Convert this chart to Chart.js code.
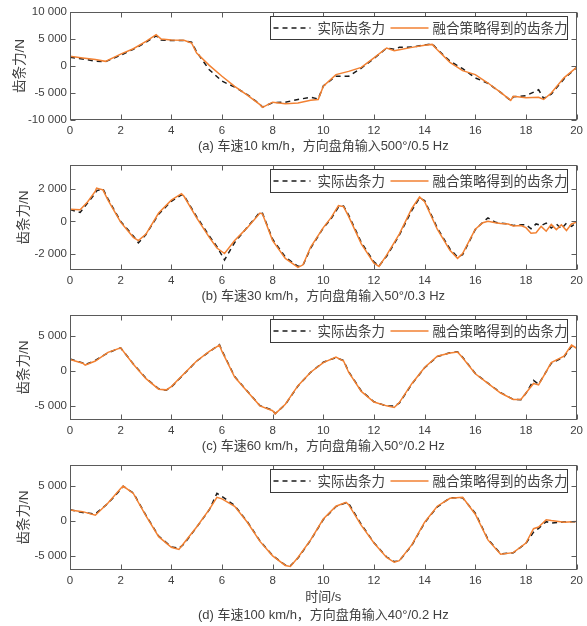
<!DOCTYPE html>
<html lang="zh">
<head>
<meta charset="UTF-8">
<title>齿条力对比</title>
<script src="https://cdn.jsdelivr.net/npm/chart.js"></script>
<style>
  body { margin: 0; background: #ffffff; }
  .panel { position: absolute; left: 0; width: 587px; }
  canvas { display: block; }
</style>
</head>
<body>
<div class="panel" style="top:0px"><canvas id="chartA" width="587" height="155"></canvas></div>
<div class="panel" style="top:155px"><canvas id="chartB" width="587" height="150"></canvas></div>
<div class="panel" style="top:305px"><canvas id="chartC" width="587" height="150"></canvas></div>
<div class="panel" style="top:455px"><canvas id="chartD" width="587" height="171"></canvas></div>

<script>
// ---- data ----
const seriesNames = ['实际齿条力', '融合策略得到的齿条力'];
const xTicks = [0, 2, 4, 6, 8, 10, 12, 14, 16, 18, 20];
const yAxisTitle = '齿条力/N';
const xAxisTitle = '时间/s';

// (a) 10 km/h
const timeA = [0,0.5,1,1.4,2,2.5,3,3.4,3.6,4,4.5,4.8,5,5.5,6,6.5,7,7.5,7.6,8,8.5,9,9.5,9.8,10,10.5,11,11.5,12,12.5,12.8,13,13.5,14,14.3,14.5,15,15.5,16,16.5,17,17.4,17.5,18,18.5,18.7,19,19.5,20];
const actualA = [1600,1300,900,800,2000,3100,4400,5600,4800,4700,4700,4400,2600,-700,-2800,-3900,-5300,-7100,-7600,-6800,-6700,-6200,-5800,-6100,-3700,-1900,-1900,-400,1400,3300,3100,3450,3500,3900,4100,3100,900,-500,-2200,-3200,-4900,-6400,-5700,-5500,-4400,-6000,-5200,-2400,-300];
const fusedA = [1800,1500,1200,860,2200,3200,4560,5800,5000,4800,4750,4260,2400,120,-1900,-3760,-5400,-7150,-7650,-6700,-7000,-6850,-6350,-6200,-3760,-1600,-1000,-250,1500,3330,2840,3000,3450,3830,4000,3000,680,-860,-1600,-3150,-4870,-6350,-5600,-5900,-5800,-6200,-5000,-2200,-250];
const yTicksA = [-10000, -5000, 0, 5000, 10000];

// (b) 30 km/h
const timeB = [0,0.4,0.7,1,1.05,1.3,1.5,2,2.5,2.7,3,3.5,4,4.4,4.5,5,5.5,5.8,6.1,6.5,7,7.5,7.6,8,8.5,9,9.2,9.5,10,10.3,10.6,10.8,11,11.5,12,12.2,12.5,13,13.5,13.8,14,14.5,15,15.3,15.5,16,16.3,16.5,16.8,17,17.3,17.5,17.8,18,18.2,18.4,18.6,18.8,19,19.2,19.4,19.6,19.8,20];
const actualB = [740,560,1150,1750,1900,2020,1400,0,-900,-1320,-800,450,1250,1650,1600,300,-900,-1550,-2380,-1300,-350,580,500,-1100,-2200,-2780,-2700,-1650,-400,150,900,950,400,-1300,-2500,-2750,-2150,-850,700,1450,1300,-400,-1700,-2200,-2050,-500,-50,220,-50,-100,-150,-250,-200,-200,-450,-150,-250,-100,-400,-150,-450,-100,-300,-60];
const fusedB = [760,720,1220,1880,2060,1960,1320,-40,-980,-1180,-780,520,1320,1720,1560,220,-980,-1640,-1980,-1180,-380,520,460,-1180,-2280,-2840,-2680,-1580,-380,220,980,920,320,-1380,-2580,-2780,-2080,-780,820,1520,1220,-480,-1780,-2280,-1980,-480,-80,20,-80,-120,-160,-280,-250,-380,-720,-700,-300,-600,-180,-500,-200,-560,-150,-40];
const yTicksB = [-2000, 0, 2000];

// (c) 60 km/h
const timeC = [0,0.5,0.6,1,1.5,2,2.5,3,3.5,3.8,4,4.5,5,5.5,5.9,6,6.5,7,7.5,8,8.1,8.5,9,9.5,10,10.5,10.8,11,11.5,12,12.5,12.8,13,13.5,14,14.5,15,15.3,15.5,16,16.5,17,17.5,17.8,18,18.3,18.5,19,19.5,19.8,20];
const actualC = [1700,1150,900,1500,2600,3300,1000,-1050,-2550,-2750,-2300,-450,1400,2750,3750,2900,-800,-2900,-4950,-5600,-6100,-4800,-2150,-200,1250,1900,1500,-100,-2850,-4400,-5000,-5000,-4600,-1850,450,2050,2600,2750,1950,-350,-1750,-3100,-4050,-4100,-3200,-1350,-1900,1100,2000,3500,3300];
const fusedC = [1650,1100,820,1420,2650,3290,960,-1100,-2600,-2700,-2240,-410,1420,2790,3700,2790,-870,-2920,-4980,-5670,-6120,-4750,-2100,-180,1190,1970,1420,-180,-2920,-4430,-4980,-5210,-4520,-1780,500,2100,2560,2700,1870,-410,-1780,-3150,-4070,-4070,-3150,-1780,-2000,1190,2100,3700,3240];
const yTicksC = [-5000, 0, 5000];

// (d) 100 km/h
const timeD = [0,0.5,1,1.5,2,2.1,2.5,3,3.5,4,4.3,4.5,5,5.5,5.8,6,6.5,7,7.5,8,8.5,8.7,9,9.5,10,10.5,10.9,11,11.5,12,12.5,12.8,13,13.5,14,14.5,15,15.5,16,16.5,17,17.5,18,18.3,18.5,18.8,19,19.5,20];
const actualD = [1600,1200,1000,2500,4500,4950,4000,800,-2150,-3700,-3900,-3300,-900,1600,3930,3500,2200,-100,-2850,-4950,-6300,-6400,-5300,-2750,200,2050,2600,2500,-500,-3100,-5150,-5800,-5700,-3450,-250,2000,3300,3300,1100,-2600,-4700,-4550,-3200,-1600,-1050,-100,-300,-150,-100];
const fusedD = [1550,1330,820,2560,4620,4980,3930,730,-2240,-3750,-4070,-3150,-870,1650,3380,3150,2100,-180,-2920,-4980,-6350,-6490,-5210,-2700,270,2100,2650,2330,-640,-3150,-5210,-5900,-5670,-3380,-180,2100,3240,3380,960,-2700,-4750,-4520,-3150,-1100,-870,180,50,-180,-90];
const yTicksD = [-5000, 0, 5000];

const captions = [
  '(a) 车速10 km/h，方向盘角输入500°/0.5 Hz',
  '(b) 车速30 km/h，方向盘角输入50°/0.3 Hz',
  '(c) 车速60 km/h，方向盘角输入50°/0.2 Hz',
  '(d) 车速100 km/h，方向盘角输入40°/0.2 Hz'
];

// ---- styles ----
const TEXT = '#404040';
const ORANGE = '#f28132';
const LATIN = '"Liberation Sans", Arial, "Noto Sans CJK SC", sans-serif';
const CJK = '"Liberation Sans", "Noto Sans CJK SC", sans-serif';

function fmt(v) {
  const s = String(Math.abs(v)).replace(/\B(?=(\d{3})+(?!\d))/g, ' ');
  return v < 0 ? '-' + s : s;
}

function toPoints(t, y) {
  return t.map((x, i) => ({ x: x, y: y[i] }));
}

// axes box with inward tick marks (MATLAB style)
const framePlugin = {
  id: 'frame',
  afterDatasetsDraw(chart) {
    const { ctx, chartArea: a, scales } = chart;
    const L = Math.round(a.left) + 0.5, R = Math.round(a.right) - 0.5;
    const T = Math.round(a.top) + 0.5, B = Math.round(a.bottom) - 0.5;
    ctx.save();
    ctx.strokeStyle = '#5a5a5a';
    ctx.lineWidth = 1;
    ctx.beginPath();
    scales.x.ticks.forEach(t => {
      const px = Math.round(scales.x.getPixelForValue(t.value)) + 0.5;
      ctx.moveTo(px, B); ctx.lineTo(px, B - 5);
      ctx.moveTo(px, T); ctx.lineTo(px, T + 5);
    });
    scales.y.ticks.forEach(t => {
      const py = Math.round(scales.y.getPixelForValue(t.value)) + 0.5;
      ctx.moveTo(L, py); ctx.lineTo(L + 5, py);
      ctx.moveTo(R, py); ctx.lineTo(R - 5, py);
    });
    ctx.stroke();
    ctx.strokeRect(L, T, R - L, B - T);

    // legend box, top right
    const w = 297, h = 23;
    const bx = Math.round(a.right) - 10 - w + 0.5, by = Math.round(a.top) + 4 + 0.5;
    ctx.fillStyle = '#ffffff';
    ctx.fillRect(bx, by, w, h);
    ctx.strokeStyle = '#3a3a3a';
    ctx.strokeRect(bx, by, w, h);
    const cy = by + h / 2;
    const ds = chart.data.datasets;
    const items = [{ x0: 3, x1: 40, tx: 47 }, { x0: 120, x1: 158, tx: 162 }];
    ctx.font = '13.5px ' + CJK;
    ctx.textBaseline = 'middle';
    ds.forEach((d, i) => {
      const it = items[i];
      ctx.strokeStyle = d.borderColor;
      ctx.lineWidth = d.borderWidth;
      ctx.setLineDash(d.borderDash || []);
      ctx.beginPath();
      ctx.moveTo(bx + it.x0, cy); ctx.lineTo(bx + it.x1, cy);
      ctx.stroke();
      ctx.setLineDash([]);
      ctx.fillStyle = TEXT;
      ctx.fillText(d.label, bx + it.tx, cy + 1);
    });
    ctx.restore();
  }
};

function makeChart(id, o) {
  new Chart(document.getElementById(id), {
    type: 'line',
    data: {
      datasets: [
        {
          label: seriesNames[0],
          data: toPoints(o.time, o.actual),
          borderColor: '#1a1a1a',
          borderWidth: 1.5,
          borderDash: [5, 4],
          pointRadius: 0,
          order: 2
        },
        {
          label: seriesNames[1],
          data: toPoints(o.time, o.fused),
          borderColor: ORANGE,
          borderWidth: 1.5,
          pointRadius: 0,
          order: 1
        }
      ]
    },
    options: {
      responsive: false,
      animation: false,
      devicePixelRatio: 1,
      layout: { padding: { top: o.padTop, right: 10, left: 0, bottom: 0 } },
      plugins: { legend: { display: false }, tooltip: { enabled: false } },
      scales: {
        x: {
          type: 'linear',
          min: 0, max: 20,
          afterBuildTicks: s => { s.ticks = xTicks.map(v => ({ value: v })); },
          afterFit: s => { s.height = o.xHeight; },
          grid: { display: false, drawTicks: false },
          border: { display: false },
          ticks: { color: TEXT, font: { family: LATIN, size: 11.5 }, padding: 4, maxRotation: 0 },
          title: {
            display: true,
            text: o.caption,
            color: TEXT,
            font: { family: CJK, size: 13, lineHeight: '18px' },
            padding: { top: 0, bottom: o.capPad }
          }
        },
        y: {
          min: o.yMin, max: o.yMax,
          afterBuildTicks: s => { s.ticks = o.yTicks.map(v => ({ value: v })); },
          afterFit: s => { s.width = 70; },
          grid: { display: false, drawTicks: false },
          border: { display: false },
          ticks: { color: TEXT, font: { family: LATIN, size: 11.5 }, padding: 3, callback: v => fmt(v) },
          title: {
            display: true,
            text: yAxisTitle,
            color: TEXT,
            font: { family: CJK, size: 13.5 },
            padding: { top: o.yTitlePad, bottom: 0 }
          }
        }
      }
    },
    plugins: [framePlugin]
  });
}

makeChart('chartA', { time: timeA, actual: actualA, fused: fusedA, yMin: -10000, yMax: 10000, yTicks: yTicksA,
  caption: captions[0], padTop: 12, xHeight: 35, capPad: 0, yTitlePad: 12 });
makeChart('chartB', { time: timeB, actual: actualB, fused: fusedB, yMin: -3000, yMax: 3500, yTicks: yTicksB,
  caption: captions[1], padTop: 7, xHeight: 35, capPad: 0, yTitlePad: 16 });
makeChart('chartC', { time: timeC, actual: actualC, fused: fusedC, yMin: -7000, yMax: 8000, yTicks: yTicksC,
  caption: captions[2], padTop: 8, xHeight: 35, capPad: 0, yTitlePad: 16 });
makeChart('chartD', { time: timeD, actual: actualD, fused: fusedD, yMin: -7000, yMax: 8000, yTicks: yTicksD,
  caption: [xAxisTitle, captions[3]], padTop: 8, xHeight: 56, capPad: 2, yTitlePad: 16 });
</script>
</body>
</html>
